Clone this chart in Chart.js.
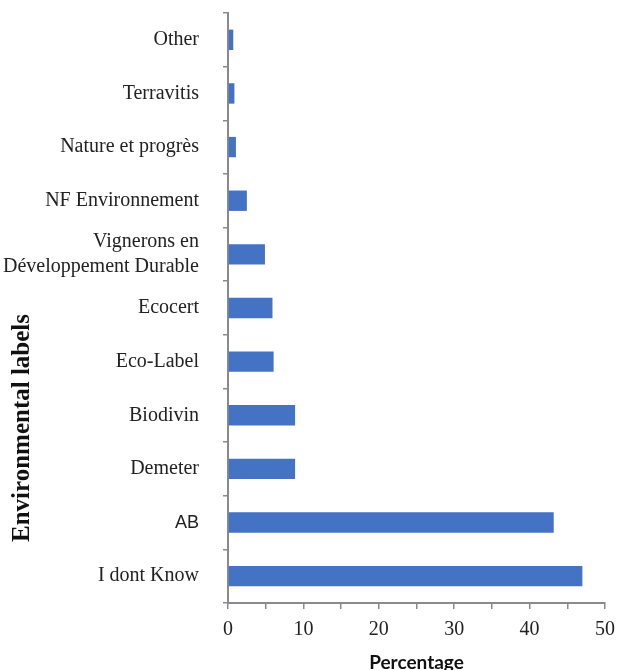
<!DOCTYPE html>
<html>
<head>
<meta charset="utf-8">
<script src="https://cdn.jsdelivr.net/npm/chart.js@4"></script>
<style>
  html, body { margin: 0; padding: 0; background: #fff; }
  #wrap { width: 619px; height: 670px; }
</style>
</head>
<body>
<div id="wrap"><canvas id="c" width="619" height="670"></canvas></div>
<script>
const categories = ['Other', 'Terravitis', 'Nature et progrès', 'NF Environnement',
  ['Vignerons en', 'Développement Durable'], 'Ecocert', 'Eco-Label', 'Biodivin',
  'Demeter', 'AB', 'I dont Know'];
const percentages = [0.7, 0.85, 1.05, 2.5, 4.9, 5.9, 6.05, 8.9, 8.9, 43.2, 47.0];
const xTickValues = [0, 10, 20, 30, 40, 50];
const xAxisTitle = 'Percentage';
const yAxisTitle = 'Environmental labels';

const axisGray = '#8a8a8a';
const serif = "'Liberation Serif', 'Times New Roman', serif";

const yTitlePlugin = {
  id: 'yTitle',
  afterDraw(chart) {
    const ctx = chart.ctx;
    ctx.save();
    ctx.translate(23, 428);
    ctx.rotate(-Math.PI / 2);
    ctx.font = "bold 25px " + serif;
    ctx.fillStyle = '#111';
    ctx.textAlign = 'center';
    ctx.textBaseline = 'middle';
    ctx.fillText(yAxisTitle, 0, 0);
    ctx.restore();
  }
};

new Chart(document.getElementById('c'), {
  type: 'bar',
  data: {
    labels: categories,
    datasets: [{
      data: percentages,
      backgroundColor: '#4472C4',
      borderWidth: 0,
      categoryPercentage: 1.0,
      barPercentage: 0.38
    }]
  },
  options: {
    indexAxis: 'y',
    responsive: false,
    animation: false,
    layout: { padding: { top: 13, right: 14, bottom: 0, left: 0 } },
    plugins: { legend: { display: false }, tooltip: { enabled: false } },
    scales: {
      x: {
        min: 0, max: 50,
        afterFit(scale) { scale.height = 67; scale.paddingLeft = 0; scale.paddingRight = 0; },
        grid: { display: true, drawOnChartArea: false, drawTicks: true, tickLength: 6, color: axisGray, lineWidth: 1.5 },
        border: { display: true, color: axisGray, width: 2 },
        ticks: {
          stepSize: 5,
          autoSkip: false,
          maxRotation: 0,
          padding: 9,
          color: '#222',
          font: { family: serif, size: 20 },
          callback: (v) => xTickValues.includes(v) ? String(v) : ''
        },
        title: {
          display: true,
          text: xAxisTitle,
          color: '#111',
          font: { family: "Lato, 'Open Sans', sans-serif", size: 19, weight: 'bold' },
          padding: { top: 0, bottom: -4 }
        }
      },
      y: {
        afterFit(scale) { scale.width = 228; scale.paddingTop = 0; scale.paddingBottom = 0; },
        grid: { display: true, offset: true, drawOnChartArea: false, drawTicks: true, tickLength: 5, color: axisGray, lineWidth: 1.5 },
        border: { display: true, color: axisGray, width: 2 },
        ticks: {
          autoSkip: false,
          padding: 24,
          color: '#222',
          font: (ctx) => (categories[ctx.index] === 'AB')
            ? { family: "'Liberation Sans', Arial, sans-serif", size: 18, lineHeight: 1.25 }
            : { family: serif, size: 20, lineHeight: 1.25 }
        }
      }
    }
  },
  plugins: [yTitlePlugin]
});
</script>
</body>
</html>
